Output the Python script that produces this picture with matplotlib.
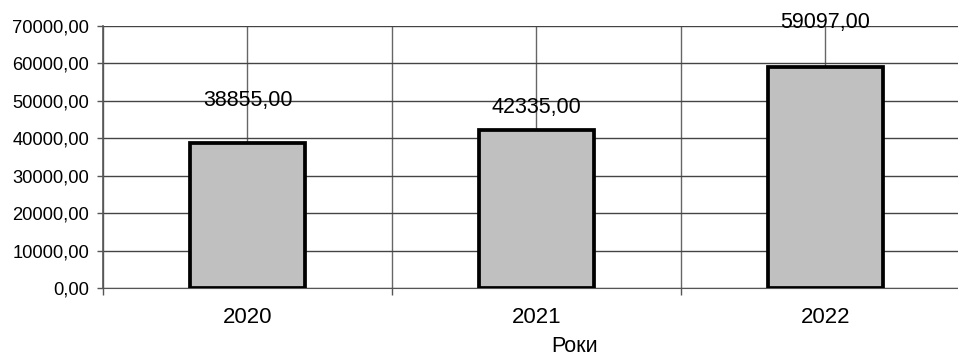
import matplotlib
matplotlib.use('Agg')
import matplotlib.pyplot as plt
from matplotlib.ticker import FixedLocator, FuncFormatter

years = ['2020', '2021', '2022']
values = [38855.00, 42335.00, 59097.00]
label_offsets = [30, 16, 32]  # points above the bar top

plt.rcParams['font.family'] = ['Liberation Sans', 'DejaVu Sans']

fig = plt.figure(figsize=(9.58, 3.58), dpi=100)
ax = fig.add_axes([103 / 958, 70 / 358, 867 / 958, 262 / 358])

x = list(range(len(years)))
ax.bar(x, values, width=0.4, color='#c0c0c0', edgecolor='black', linewidth=2.7, zorder=3)

for xi, v, off in zip(x, values, label_offsets):
    ax.annotate(('%.2f' % v).replace('.', ','), (xi, v), xytext=(0, off),
                textcoords='offset points', ha='center', va='center', fontsize=15.5, zorder=4)

ax.set_xlim(-0.5, 2.5)
ax.set_ylim(0, 70000)
ax.set_yticks(range(0, 70001, 10000))
ax.yaxis.set_major_formatter(FuncFormatter(lambda v, p: ('%.2f' % v).replace('.', ',')))
ax.tick_params(axis='y', labelsize=13.2, length=4.5, width=1, color='#555555', pad=5.5)

ax.set_xticks(x)
ax.set_xticklabels(years)
ax.xaxis.set_minor_locator(FixedLocator([-0.5, 0.5, 1.5, 2.5]))
ax.tick_params(axis='x', which='major', length=0, labelsize=16, pad=14)
ax.tick_params(axis='x', which='minor', length=5, width=1, color='#555555')

ax.grid(axis='y', color='#444444', linewidth=1, zorder=0)
ax.grid(axis='x', which='both', color='#666666', linewidth=1, zorder=0)
ax.set_axisbelow(True)

for side in ['top', 'right']:
    ax.spines[side].set_visible(False)
ax.spines['left'].set_color('#555555')
ax.spines['bottom'].set_color('#555555')
ax.spines['left'].set_linewidth(1.2)

fig.text(575 / 958, 1 - 346 / 358, 'Роки', ha='center', va='center', fontsize=15.5)

plt.savefig('out.png', dpi=100)
plt.close()
